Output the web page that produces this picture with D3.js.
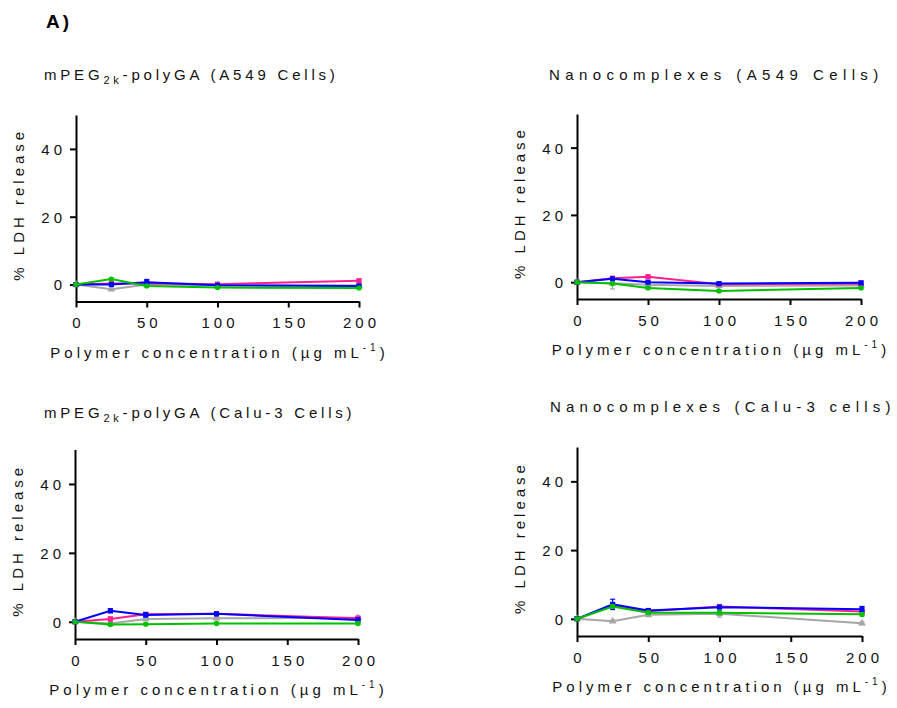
<!DOCTYPE html>
<html>
<head>
<meta charset="utf-8">
<script src="https://cdn.jsdelivr.net/npm/d3@7"></script>
<style>
  body { margin: 0; background: #fff; }
  svg { font-family: "Liberation Sans", Arial, sans-serif; }
  .lbl { font-size: 15px; letter-spacing: 4px; fill: #111; }
  .tick text { font-size: 15px; letter-spacing: 4px; fill: #111; font-family: "Liberation Sans", Arial, sans-serif; }
  .domain, .tick line { stroke: #000; stroke-width: 2px; }
</style>
</head>
<body>
<svg width="897" height="708"></svg>
<script>
const width = 897;
const height = 708;

// x values (polymer concentration, ug/mL)
const conc = [0, 25, 50, 100, 200];
const xTicks = [0, 50, 100, 150, 200];
const yTicks = [0, 20, 40];
const seriesKeys = ["gray", "pink", "blue", "green"];

// mPEG2k-polyGA (A549 Cells)
const p1Gray = [0, -1.4, 0, -0.2, -0.3];
const p1Pink = [0, 0.3, 0.4, 0.1, 1.1];
const p1Blue = [0, 0, 0.7, -0.2, -0.4];
const p1Green = [0, 1.6, -0.4, -0.9, -1.0];
const p1GrayErr = [0, 0.3, 0.3, 0.2, 0.2];
const p1PinkErr = [0, 0.2, 0.3, 0.3, 0.5];
const p1BlueErr = [0, 0.3, 0.8, 0.2, 0.3];
const p1GreenErr = [0, 0.3, 0.3, 0.2, 0.2];

// Nanocomplexes (A549 Cells)
const p2Gray = [0, -0.3, -0.8, -1.1, -1.0];
const p2Pink = [0, 1.2, 1.6, -0.6, -0.5];
const p2Blue = [0, 1.0, 0, -0.4, -0.2];
const p2Green = [0, -0.4, -1.7, -2.6, -1.7];
const p2GrayErr = [0, 1.7, 0.3, 0.3, 0.3];
const p2PinkErr = [0, 0.4, 0.5, 0.2, 0.3];
const p2BlueErr = [0, 0.3, 0.3, 0.3, 0.5];
const p2GreenErr = [0, 0.3, 0.3, 0.3, 0.3];

// mPEG2k-polyGA (Calu-3 Cells)
const p3Gray = [0, -0.5, 0.8, 1.0, 1.2];
const p3Pink = [0, 0.8, 2.2, 2.3, 1.0];
const p3Blue = [0, 3.2, 2.0, 2.3, 0.5];
const p3Green = [0, -0.8, -0.7, -0.5, -0.5];
const p3GrayErr = [0, 0.3, 0.3, 0.3, 0.4];
const p3PinkErr = [0, 0.6, 0.4, 0.3, 0.6];
const p3BlueErr = [0, 0.6, 0.6, 0.5, 0.6];
const p3GreenErr = [0, 0.3, 0.3, 0.3, 0.3];

// Nanocomplexes (Calu-3 cells)
const p4Gray = [0, -0.7, 1.2, 1.5, -1.3];
const p4Pink = [0, 3.8, 2.2, 3.6, 2.1];
const p4Blue = [0, 4.2, 2.4, 3.4, 2.8];
const p4Green = [0, 3.6, 1.8, 1.8, 1.3];
const p4GrayErr = [0, 0.3, 0.6, 1.0, 0.4];
const p4PinkErr = [0, 0.5, 0.4, 0.5, 0.5];
const p4BlueErr = [0, 1.5, 0.6, 0.4, 0.8];
const p4GreenErr = [0, 0.5, 0.5, 0.5, 0.5];

const colors = { gray: "#a6a6a6", pink: "#ff1f8f", blue: "#0000ff", green: "#00c000" };
const shapes = { gray: d3.symbolTriangle, pink: d3.symbolSquare, blue: d3.symbolSquare, green: d3.symbolCircle };

const panels = [
  { title: ["mPEG", "2k", "-polyGA (A549 Cells)"], tx: 44, ty: 80, ls: 3.8,
    x0: 76, x1: 359, yTop: 115, yBot: 301.5,
    vals: { gray: p1Gray, pink: p1Pink, blue: p1Blue, green: p1Green },
    errs: { gray: p1GrayErr, pink: p1PinkErr, blue: p1BlueErr, green: p1GreenErr } },
  { title: ["Nanocomplexes (A549 Cells)"], tx: 549, ty: 80, ls: 5.4,
    x0: 577, x1: 861, yTop: 114, yBot: 299,
    vals: { gray: p2Gray, pink: p2Pink, blue: p2Blue, green: p2Green },
    errs: { gray: p2GrayErr, pink: p2PinkErr, blue: p2BlueErr, green: p2GreenErr } },
  { title: ["mPEG", "2k", "-polyGA (Calu-3 Cells)"], tx: 44, ty: 418, ls: 3.8,
    x0: 75, x1: 358, yTop: 449.5, yBot: 639,
    vals: { gray: p3Gray, pink: p3Pink, blue: p3Blue, green: p3Green },
    errs: { gray: p3GrayErr, pink: p3PinkErr, blue: p3BlueErr, green: p3GreenErr } },
  { title: ["Nanocomplexes (Calu-3 cells)"], tx: 550, ty: 412, ls: 5.2,
    x0: 577, x1: 862, yTop: 447, yBot: 636,
    vals: { gray: p4Gray, pink: p4Pink, blue: p4Blue, green: p4Green },
    errs: { gray: p4GrayErr, pink: p4PinkErr, blue: p4BlueErr, green: p4GreenErr } },
];

const svg = d3.select("svg");

svg.append("text")
  .attr("x", 46).attr("y", 28)
  .attr("font-size", 19).attr("font-weight", "bold")
  .attr("letter-spacing", 3)
  .text("A)");

const drawPanel = (p) => {
  const g = svg.append("g");
  const x = d3.scaleLinear().domain([0, 200]).range([p.x0, p.x1]);
  const y = d3.scaleLinear().domain([-5, 50]).range([p.yBot, p.yTop]);

  // title (with optional subscript)
  const t = g.append("text").attr("class", "lbl")
    .attr("x", p.tx).attr("y", p.ty)
    .style("letter-spacing", p.ls + "px");
  if (p.title.length === 3) {
    t.append("tspan").text(p.title[0]);
    t.append("tspan").attr("font-size", 11).attr("dy", 4).text(p.title[1]);
    t.append("tspan").attr("dy", -4).text(p.title[2]);
  } else {
    t.text(p.title[0]);
  }

  g.append("g")
    .attr("transform", `translate(${p.x0},0)`)
    .call(d3.axisLeft(y).tickValues(yTicks).tickSize(6).tickSizeOuter(0).tickPadding(4))
    .call((a) => a.selectAll(".tick text").attr("dy", "0.36em"));

  g.append("g")
    .attr("transform", `translate(0,${p.yBot})`)
    .call(d3.axisBottom(x).tickValues(xTicks).tickSize(6).tickSizeOuter(0).tickPadding(10))
    .call((a) => a.selectAll(".tick text").attr("dx", 2));

  // y axis label
  const ym = (p.yTop + p.yBot) / 2 - 4;
  g.append("text").attr("class", "lbl")
    .attr("transform", `translate(${p.x0 - 52},${ym}) rotate(-90)`)
    .attr("text-anchor", "middle")
    .text("% LDH release");

  // x axis label
  const xl = g.append("text").attr("class", "lbl")
    .attr("x", (p.x0 + p.x1) / 2 + 2).attr("y", p.yBot + 56)
    .attr("text-anchor", "middle");
  xl.append("tspan").text("Polymer concentration (\u00b5g mL");
  xl.append("tspan").attr("font-size", 10).attr("dy", -7).text("-1");
  xl.append("tspan").attr("dy", 7).text(")");

  const line = d3.line().x((d) => x(d.c)).y((d) => y(d.v));

  seriesKeys.forEach((k) => {
    const pts = conc.map((c, i) => ({ c: c, v: p.vals[k][i], e: p.errs[k][i] }));
    const sg = g.append("g").attr("stroke", colors[k]).attr("fill", colors[k]);

    sg.append("path").datum(pts)
      .attr("fill", "none").attr("stroke-width", 2)
      .attr("d", line);

    const eb = sg.selectAll(".err").data(pts.filter((d) => d.e > 0)).enter().append("g");
    eb.append("line")
      .attr("x1", (d) => x(d.c)).attr("x2", (d) => x(d.c))
      .attr("y1", (d) => y(d.v - d.e)).attr("y2", (d) => y(d.v + d.e))
      .attr("stroke-width", 1.2);
    eb.append("line")
      .attr("x1", (d) => x(d.c) - 2.5).attr("x2", (d) => x(d.c) + 2.5)
      .attr("y1", (d) => y(d.v + d.e)).attr("y2", (d) => y(d.v + d.e))
      .attr("stroke-width", 1.2);
    eb.append("line")
      .attr("x1", (d) => x(d.c) - 2.5).attr("x2", (d) => x(d.c) + 2.5)
      .attr("y1", (d) => y(d.v - d.e)).attr("y2", (d) => y(d.v - d.e))
      .attr("stroke-width", 1.2);

    sg.selectAll(".pt").data(pts).enter().append("path")
      .attr("stroke", "none")
      .attr("transform", (d) => `translate(${x(d.c)},${y(d.v)})`)
      .attr("d", d3.symbol().type(shapes[k]).size(k === "green" ? 22 : 26));
  });
};

panels.forEach(drawPanel);
</script>
</body>
</html>
